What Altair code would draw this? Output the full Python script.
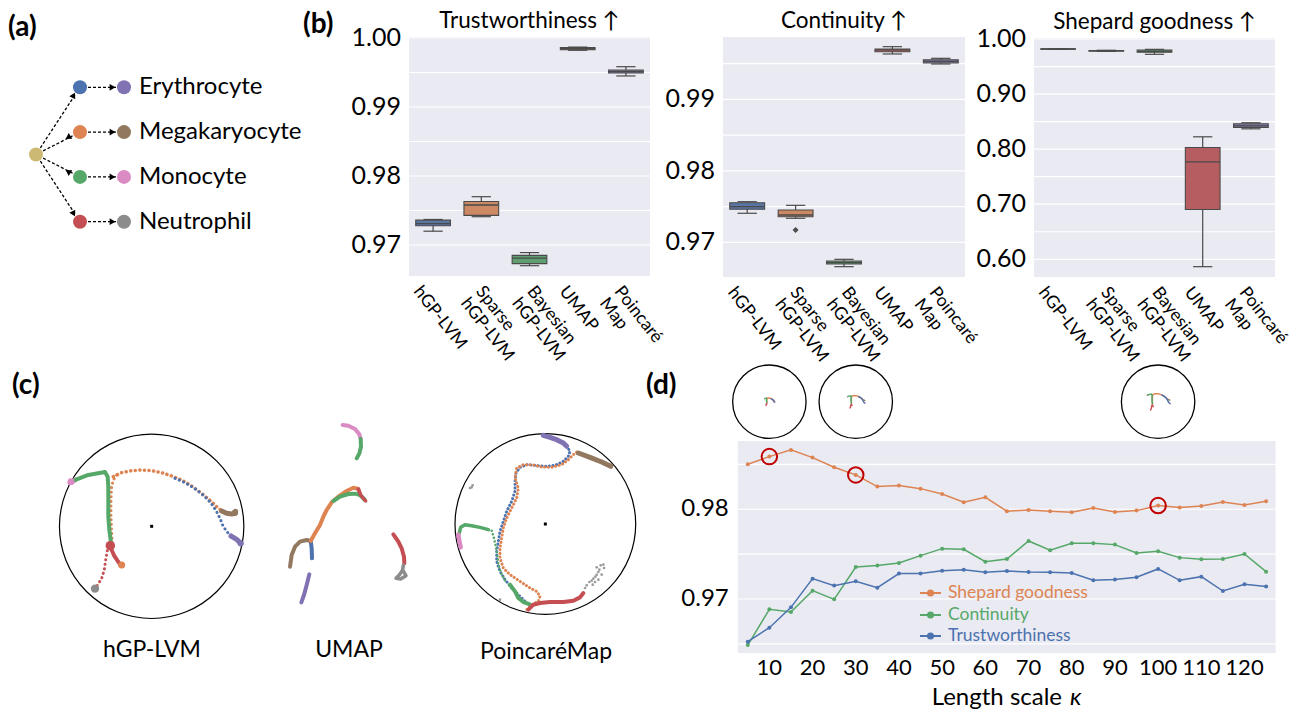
import math
import altair as alt
import pandas as pd

FONT = "Lato"
BG = "#EAEAF2"
EDGE = "#4a4a4a"

# ------------------------------------------------------------------ data
# (a) lineage tree
cell_types = ["Erythrocyte", "Megakaryocyte", "Monocyte", "Neutrophil"]
mid_colors = ["#4C72B0", "#DD8452", "#55A868", "#C44E52"]
leaf_colors = ["#8172B3", "#937860", "#DA8BC3", "#8C8C8C"]
root_color = "#CCB974"

# (b) box plot summaries
methods = ["hGP-LVM", "Sparse\nhGP-LVM", "Bayesian\nhGP-LVM", "UMAP", "Poincaré\nMap"]
box_fill = ["#5975a4", "#cc8963", "#5f9e6e", "#b55d60", "#857aab"]

trust_lo = [0.9720, 0.9741, 0.9670, 0.99822, 0.9945]
trust_q1 = [0.9728, 0.9743, 0.9673, 0.99830, 0.99493]
trust_med = [0.9731, 0.9758, 0.9681, 0.99848, 0.99512]
trust_q3 = [0.9736, 0.9763, 0.9685, 0.99862, 0.99536]
trust_hi = [0.9737, 0.9770, 0.9689, 0.99868, 0.99584]

cont_lo = [0.97406, 0.97336, 0.96659, 0.99634, 0.99494]
cont_q1 = [0.97462, 0.97358, 0.96697, 0.99666, 0.99508]
cont_med = [0.97498, 0.97382, 0.96715, 0.99690, 0.99531]
cont_q3 = [0.97554, 0.97452, 0.96738, 0.99703, 0.99554]
cont_hi = [0.97568, 0.97517, 0.96762, 0.99736, 0.99573]
cont_outlier_idx = [1]
cont_outlier_val = [0.97172]

shep_lo = [0.9812, 0.9776, 0.9722, 0.5866, 0.8369]
shep_q1 = [0.9815, 0.9780, 0.9758, 0.6903, 0.8394]
shep_med = [0.9818, 0.9787, 0.9776, 0.7770, 0.8424]
shep_q3 = [0.9820, 0.9792, 0.9800, 0.8030, 0.8461]
shep_hi = [0.9822, 0.9795, 0.9812, 0.8224, 0.8479]

# (c) embeddings (arbitrary latent units)
HGP_PINK = ([45, 52, 60], [158, 154, 150])
HGP_GREEN = ([55, 100, 150, 158, 160, 160, 160, 163, 167, 168],
             [152, 135, 126, 140, 170, 220, 260, 300, 330, 345])
HGP_ORANGE_TRUNK = ([185, 175, 170, 168, 168, 170, 172], [135, 150, 170, 210, 260, 310, 340])
HGP_ORANGE_ARC = ([175, 200, 230, 260, 290, 320, 350, 380, 410, 440, 470, 490, 505],
                  [140, 128, 122, 120, 122, 128, 138, 150, 168, 190, 215, 235, 245])
HGP_BLUE = ([360, 390, 420, 450, 470, 485, 495, 505, 520, 535],
            [145, 158, 176, 200, 222, 245, 265, 290, 310, 320])
HGP_BROWN = ([500, 515, 530, 540, 542], [243, 250, 252, 250, 244])
HGP_PURPLE = ([528, 545, 558], [318, 328, 340])
HGP_RED = ([165, 170, 178, 188, 196], [345, 360, 378, 393, 404])
HGP_RED_DOTTED = ([157, 152, 148, 140, 128, 121], [362, 390, 420, 445, 465, 474])
HGP_ENDS_X = [200, 166, 120, 48, 540, 557]
HGP_ENDS_Y = [405, 347, 476, 155, 248, 340]
HGP_ENDS_C = ["#DD8452", "#C44E52", "#8C8C8C", "#DA8BC3", "#937860", "#8172B3"]

UMAP_PINK = ([188, 205, 225, 238, 242], [30, 32, 42, 58, 72])
UMAP_GREEN_TOP = ([242, 243, 238, 230], [72, 95, 115, 130])
UMAP_BROWN = ([30, 35, 45, 60, 80, 92], [455, 420, 395, 380, 375, 378])
UMAP_BLUE = ([92, 95, 96], [378, 400, 430])
UMAP_PURPLE = ([88, 80, 72, 64], [478, 510, 540, 562])
UMAP_ORANGE = ([92, 105, 120, 130, 140, 155, 175, 200, 220, 235, 240],
               [378, 355, 330, 305, 285, 262, 245, 228, 218, 222, 238])
UMAP_GREEN_MID = ([160, 180, 205, 225, 240, 255], [258, 245, 237, 236, 240, 255])
UMAP_RED_MID = ([235, 242, 257], [222, 240, 258])
UMAP_RED = ([340, 355, 365, 372, 373], [358, 380, 400, 425, 445])
UMAP_GREY = ([370, 368, 358, 348, 362, 378, 370], [450, 465, 480, 490, 492, 482, 468])

PM_PURPLE = ([280, 300, 320, 340, 350], [22, 28, 35, 45, 55])
PM_BLUE = ([350, 360, 355, 340, 315, 285, 255, 230, 210, 198, 195, 195, 185, 170, 160, 150, 145, 140,
            140, 150, 165, 185, 205, 225, 235],
           [55, 70, 85, 100, 112, 115, 112, 110, 118, 135, 160, 190, 220, 250, 280, 310, 340, 370,
            400, 430, 455, 480, 500, 520, 530])
PM_ORANGE = ([380, 370, 355, 335, 305, 275, 245, 220, 200, 195, 205, 200, 185, 170, 160, 155, 150, 150,
              160, 180, 210, 240, 260, 270, 265, 245, 230],
             [72, 80, 95, 110, 118, 117, 110, 110, 120, 150, 180, 210, 240, 270, 300, 330, 360, 390,
              420, 440, 460, 480, 490, 505, 520, 530, 545])
PM_BROWN = ([385, 420, 455, 482], [75, 88, 102, 115])
PM_GREEN = ([115, 90, 65, 45, 32, 27], [305, 298, 293, 290, 298, 318])
PM_GREEN_DOTTED = ([125, 132, 136, 142, 145, 155, 170], [308, 330, 350, 380, 410, 440, 465])
PM_GREEN_LOW = ([180, 195, 205, 220, 238], [470, 490, 510, 522, 528])
PM_PINK = ([25, 28, 32], [320, 340, 358])
PM_RED = ([235, 250, 270, 300, 340, 370, 390, 400], [545, 530, 525, 522, 522, 518, 508, 495])
PM_GREY_X = [60, 65, 68, 405, 410, 418, 425, 430, 436, 440, 445, 448, 440, 452, 460, 462, 455, 445, 435, 428, 150]
PM_GREY_Y = [180, 178, 172, 480, 472, 462, 458, 452, 446, 440, 432, 425, 418, 412, 410, 420, 440, 455, 462, 470, 515]

# (d) length-scale sweep
kappa = [5, 10, 15, 20, 25, 30, 35, 40, 45, 50, 55, 60, 65, 70, 75, 80, 85, 90, 95, 100, 105, 110, 115, 120, 125]
shepard = [0.98502, 0.98587, 0.98662, 0.98576, 0.98468, 0.98383, 0.98253, 0.98264, 0.98230, 0.98171,
           0.98078, 0.98134, 0.97978, 0.97993, 0.97978, 0.97967, 0.98015, 0.97970, 0.97985, 0.98041,
           0.98019, 0.98037, 0.98082, 0.98048, 0.98089]
continuity = [0.96487, 0.96885, 0.96855, 0.97093, 0.96996, 0.97357, 0.97372, 0.97401, 0.97483, 0.97561,
              0.97554, 0.97416, 0.97446, 0.97647, 0.97543, 0.97621, 0.97621, 0.97606, 0.97513, 0.97532,
              0.97461, 0.97442, 0.97446, 0.97502, 0.97305]
trustworthiness = [0.96524, 0.96680, 0.96907, 0.97227, 0.97149, 0.97197, 0.97126, 0.97283, 0.97283, 0.97316,
                   0.97327, 0.97297, 0.97312, 0.97301, 0.97297, 0.97290, 0.97208, 0.97216, 0.97242, 0.97335,
                   0.97208, 0.97249, 0.97089, 0.97164, 0.97138]
series_names = ["Shepard goodness", "Continuity", "Trustworthiness"]
series_colors = ["#DD8452", "#55A868", "#4C72B0"]
highlight_kappa = [10, 30, 100]
inset_scale_px = [6.0, 10.0, 13.0]


# ------------------------------------------------------------------ helpers
def qs(dom, rng):
    return alt.Scale(domain=list(dom), range=list(rng), nice=False, zero=False)


class Panel:
    def __init__(self, xd, xr, yd, yr):
        self.xd, self.xr, self.yd, self.yr = xd, xr, yd, yr

    def X(self, f):
        return alt.X(f, type="quantitative", scale=qs(self.xd, self.xr), axis=None)

    def Y(self, f):
        return alt.Y(f, type="quantitative", scale=qs(self.yd, self.yr), axis=None)

    def px_x(self):
        return (self.xr[1] - self.xr[0]) / (self.xd[1] - self.xd[0])

    def px_y(self):
        return (self.yr[0] - self.yr[1]) / (self.yd[1] - self.yd[0])


def note(text, x, y, size, weight="normal", align="center", style="normal"):
    return alt.Chart(pd.DataFrame({"t": [text]})).mark_text(
        font=FONT, fontSize=size, fontWeight=weight, fontStyle=style, align=align, baseline="middle",
        color="black"
    ).encode(x=alt.value(x), y=alt.value(y), text="t:N")


# ------------------------------------------------------------------ (a) tree
TP = Panel([0, 2], [36, 124], [0, 3], [87.3, 221.7])
PXX, PXY = TP.px_x(), TP.px_y()
seg_rows, head_rows = [], []


def add_arrow(sid, a, b, pad0=8.0, pad1=8.0):
    dxp = (b[0] - a[0]) * PXX
    dyp = (b[1] - a[1]) * PXY
    L = math.hypot(dxp, dyp)
    ux, uy = dxp / L, dyp / L
    s = (a[0] + ux * pad0 / PXX, a[1] + uy * pad0 / PXY)
    t = (b[0] - ux * pad1 / PXX, b[1] - uy * pad1 / PXY)
    h = (t[0] - ux * 3.5 / PXX, t[1] - uy * 3.5 / PXY)
    seg_rows.append(dict(s=sid, i=0, x=s[0], y=s[1]))
    seg_rows.append(dict(s=sid, i=1, x=t[0], y=t[1]))
    head_rows.append(dict(x=h[0], y=h[1], ang=math.degrees(math.atan2(dyp, dxp))))


for k in range(4):
    add_arrow(f"r{k}", (0, 1.5), (1, k))
    add_arrow(f"m{k}", (1, k), (2, k))

node_df = pd.DataFrame(
    dict(x=[0] + [1] * 4 + [2] * 4, y=[1.5] + list(range(4)) + list(range(4)),
         c=[root_color] + mid_colors + leaf_colors))
lab_df = pd.DataFrame(dict(x=[2] * 4, y=list(range(4)), t=cell_types))

tree = alt.layer(
    alt.Chart(pd.DataFrame(seg_rows)).mark_line(color="black", strokeWidth=1.3, strokeDash=[3, 2]).encode(
        x=TP.X("x"), y=TP.Y("y"), detail="s:N", order="i:Q"),
    alt.Chart(pd.DataFrame(head_rows)).mark_point(shape="triangle-right", size=45, filled=True, color="black",
                                                  opacity=1).encode(
        x=TP.X("x"), y=TP.Y("y"), angle=alt.Angle("ang:Q", scale=None)),
    alt.Chart(node_df).mark_circle(size=196, opacity=1).encode(
        x=TP.X("x"), y=TP.Y("y"), color=alt.Color("c:N", scale=None)),
    alt.Chart(lab_df).mark_text(font=FONT, fontSize=24, align="left", baseline="middle", dx=15,
                                color="black").encode(x=TP.X("x"), y=TP.Y("y"), text="t:N"),
)


# ------------------------------------------------------------------ (b) box plots
def box_panel(title, lo, q1, med, q3, hi, P, grid, ticks, offs, out_idx=None, out_val=None):
    n = len(methods)
    c = [i + 0.5 for i in range(n)]
    df = pd.DataFrame(dict(c=c, bl=[v - 0.36 for v in c], br=[v + 0.36 for v in c],
                           cl=[v - 0.2 for v in c], cr=[v + 0.2 for v in c],
                           lo=lo, q1=q1, med=med, q3=q3, hi=hi, fill=box_fill))
    frame = pd.DataFrame(dict(x0=[P.xd[0]], x1=[P.xd[1]], y0=[P.yd[0]], y1=[P.yd[1]]))
    gdf = pd.DataFrame(dict(g=grid, x0=P.xd[0], x1=P.xd[1]))
    tdf = pd.DataFrame(dict(v=ticks, lab=[f"{t:.2f}" for t in ticks], x0=P.xd[0]))
    ldf = pd.DataFrame(dict(lx=[ci + o / P.px_x() for ci, o in zip(c, offs)],
                            ly=P.yd[0] - 7 / P.px_y(), lab=methods))
    ttl = pd.DataFrame(dict(x=[(P.xd[0] + P.xd[1]) / 2], y=[P.yd[1]], t=[title]))
    base = alt.Chart(df)
    layers = [
        alt.Chart(frame).mark_rect(color=BG).encode(x=P.X("x0"), x2="x1", y=P.Y("y0"), y2="y1"),
        alt.Chart(gdf).mark_rule(color="white", strokeWidth=1.2).encode(x=P.X("x0"), x2="x1", y=P.Y("g")),
        base.mark_rule(color=EDGE, strokeWidth=1.2).encode(x=P.X("c"), y=P.Y("lo"), y2="hi"),
        base.mark_rule(color=EDGE, strokeWidth=1.2).encode(x=P.X("cl"), x2="cr", y=P.Y("lo")),
        base.mark_rule(color=EDGE, strokeWidth=1.2).encode(x=P.X("cl"), x2="cr", y=P.Y("hi")),
        base.mark_rect(stroke=EDGE, strokeWidth=1.1).encode(
            x=P.X("bl"), x2="br", y=P.Y("q1"), y2="q3", fill=alt.Fill("fill:N", scale=None)),
        base.mark_rule(color=EDGE, strokeWidth=1.3).encode(x=P.X("bl"), x2="br", y=P.Y("med")),
        alt.Chart(tdf).mark_text(font=FONT, fontSize=25, align="right", baseline="middle", dx=-8,
                                 color="black").encode(x=P.X("x0"), y=P.Y("v"), text="lab:N"),
        alt.Chart(ldf).mark_text(font=FONT, fontSize=17.5, angle=52, align="left", baseline="top",
                                 lineBreak="\n", lineHeight=19, color="black").encode(
            x=P.X("lx"), y=P.Y("ly"), text="lab:N"),
        alt.Chart(ttl).mark_text(font=FONT, fontSize=22.5, baseline="middle", dy=-16, color="black").encode(
            x=P.X("x"), y=P.Y("y"), text="t:N"),
    ]
    if out_idx:
        odf = pd.DataFrame(dict(x=[i + 0.5 for i in out_idx], y=out_val))
        layers.append(alt.Chart(odf).mark_point(shape="diamond", size=10, color=EDGE, opacity=1).encode(
            x=P.X("x"), y=P.Y("y")))
    return alt.layer(*layers)


label_offs = [-9, 5, 8, -8, -1]
trust_panel = box_panel(
    "Trustworthiness ↑", trust_lo, trust_q1, trust_med, trust_q3, trust_hi,
    Panel([0, 5], [409, 650], [0.965507, 1.000145], [276, 37]),
    [0.97, 0.975, 0.98, 0.985, 0.99, 0.995, 1.0], [0.97, 0.98, 0.99, 1.00], label_offs)
cont_panel = box_panel(
    "Continuity ↑", cont_lo, cont_q1, cont_med, cont_q3, cont_hi,
    Panel([0, 5], [723, 965], [0.965147, 0.998713], [277, 37]),
    [0.97, 0.975, 0.98, 0.985, 0.99, 0.995], [0.97, 0.98, 0.99], label_offs,
    cont_outlier_idx, cont_outlier_val)
shep_panel = box_panel(
    "Shepard goodness ↑", shep_lo, shep_q1, shep_med, shep_q3, shep_hi,
    Panel([0, 5], [1034, 1275], [0.56786, 1.0018], [277, 38]),
    [0.6, 0.65, 0.7, 0.75, 0.8, 0.85, 0.9, 0.95, 1.0], [0.6, 0.7, 0.8, 0.9, 1.0], label_offs)


# ------------------------------------------------------------------ (c) embeddings
def branches_df(branches):
    rows = []
    for name, col, style, w, (xs, ys) in branches:
        for i, (x, y) in enumerate(zip(xs, ys)):
            rows.append(dict(b=name, i=i, x=x, y=y, col=col, w=w, style=style))
    return pd.DataFrame(rows)


def emb_panel(branches, P, dash, circle=None, dots=None):
    df = branches_df(branches)
    layers = []
    if circle is not None:
        cx, cy, size = circle
        cdf = pd.DataFrame(dict(x=[cx], y=[cy]))
        layers.append(alt.Chart(cdf).mark_point(shape="circle", size=size, color="black", strokeWidth=1.2,
                                                filled=False, opacity=1).encode(x=P.X("x"), y=P.Y("y")))
        layers.append(alt.Chart(cdf).mark_square(size=9, color="black", opacity=1).encode(
            x=P.X("x"), y=P.Y("y")))
    dot = df[df["style"] == "dotted"]
    sol = df[df["style"] == "solid"]
    if len(dot):
        layers.append(alt.Chart(dot).mark_line(strokeDash=[0.1, dash], strokeCap="round").encode(
            x=P.X("x"), y=P.Y("y"), detail="b:N", order="i:Q", color=alt.Color("col:N", scale=None),
            strokeWidth=alt.StrokeWidth("w:Q", scale=None)))
    layers.append(alt.Chart(sol).mark_line(strokeCap="round", strokeJoin="round").encode(
        x=P.X("x"), y=P.Y("y"), detail="b:N", order="i:Q", color=alt.Color("col:N", scale=None),
        strokeWidth=alt.StrokeWidth("w:Q", scale=None)))
    if dots is not None:
        layers.append(alt.Chart(dots).mark_circle(opacity=1).encode(
            x=P.X("x"), y=P.Y("y"), color=alt.Color("c:N", scale=None), size=alt.Size("s:Q", scale=None)))
    return alt.layer(*layers)


hgp_branches = [
    ("o_trunk", "#DD8452", "dotted", 3, HGP_ORANGE_TRUNK),
    ("o_arc", "#DD8452", "dotted", 3.5, HGP_ORANGE_ARC),
    ("blue", "#4C72B0", "dotted", 3, HGP_BLUE),
    ("r_dot", "#C44E52", "dotted", 3, HGP_RED_DOTTED),
    ("pink", "#DA8BC3", "solid", 5, HGP_PINK),
    ("green", "#55A868", "solid", 4, HGP_GREEN),
    ("brown", "#937860", "solid", 5, HGP_BROWN),
    ("purple", "#8172B3", "solid", 5, HGP_PURPLE),
    ("red", "#C44E52", "solid", 4, HGP_RED),
]
HP = Panel([12, 568], [59, 244.3], [12, 565], [434, 618.3])
hgp_dots = pd.DataFrame(dict(x=HGP_ENDS_X, y=HGP_ENDS_Y, c=HGP_ENDS_C, s=[50, 90, 70, 45, 40, 40]))
hgp_panel = emb_panel(hgp_branches, HP, 4.5, circle=(290, 289, 34003), dots=hgp_dots)

umap_branches = [
    ("pink", "#DA8BC3", "solid", 4, UMAP_PINK),
    ("g_top", "#55A868", "solid", 4, UMAP_GREEN_TOP),
    ("brown", "#937860", "solid", 4, UMAP_BROWN),
    ("blue", "#4C72B0", "solid", 4, UMAP_BLUE),
    ("purple", "#8172B3", "solid", 4, UMAP_PURPLE),
    ("orange", "#DD8452", "solid", 4, UMAP_ORANGE),
    ("g_mid", "#55A868", "solid", 4, UMAP_GREEN_MID),
    ("r_mid", "#C44E52", "solid", 3.5, UMAP_RED_MID),
    ("red", "#C44E52", "solid", 4, UMAP_RED),
    ("grey", "#8C8C8C", "solid", 3.5, UMAP_GREY),
]
UP = Panel([0, 405], [280, 415], [0, 600], [415, 615])
umap_panel = emb_panel(umap_branches, UP, 4)

pm_branches = [
    ("blue", "#4C72B0", "dotted", 3, PM_BLUE),
    ("orange", "#DD8452", "dotted", 3, PM_ORANGE),
    ("g_dot", "#55A868", "dotted", 2.5, PM_GREEN_DOTTED),
    ("purple", "#8172B3", "solid", 5, PM_PURPLE),
    ("brown", "#937860", "solid", 5, PM_BROWN),
    ("green", "#55A868", "solid", 3.5, PM_GREEN),
    ("g_low", "#55A868", "solid", 4, PM_GREEN_LOW),
    ("pink", "#DA8BC3", "solid", 4.5, PM_PINK),
    ("red", "#C44E52", "solid", 4, PM_RED),
]
PP = Panel([15, 557], [455, 635.7], [15, 557], [433, 613.7])
pm_dots = pd.DataFrame(dict(x=PM_GREY_X, y=PM_GREY_Y, c="#9a9a9a", s=7))
pm_panel = emb_panel(pm_branches, PP, 3.6, circle=(286, 288, 32652), dots=pm_dots)

# ------------------------------------------------------------------ (d) sweep
DP = Panel([2.69, 127.2], [737.8, 1275.6], [0.96398, 0.98761], [653, 441])
long_rows = []
for name, col, vals in zip(series_names, series_colors, [shepard, continuity, trustworthiness]):
    for k, v in zip(kappa, vals):
        long_rows.append(dict(k=k, v=v, s=name, c=col))
ddf = pd.DataFrame(long_rows)
frame_d = pd.DataFrame(dict(x0=[DP.xd[0]], x1=[DP.xd[1]], y0=[DP.yd[0]], y1=[DP.yd[1]]))
grid_d = pd.DataFrame(dict(g=[0.965, 0.97, 0.975, 0.98, 0.985], x0=DP.xd[0], x1=DP.xd[1]))
yt_d = pd.DataFrame(dict(v=[0.97, 0.98], lab=["0.97", "0.98"], x0=DP.xd[0]))
xt_d = pd.DataFrame(dict(k=list(range(10, 121, 10)), lab=[str(v) for v in range(10, 121, 10)], y0=DP.yd[0]))
hl = ddf[(ddf["s"] == "Shepard goodness") & (ddf["k"].isin(highlight_kappa))]

# legend (layout in panel units)
leg_y = [DP.yd[1] - (593 - 441) / DP.px_y(), DP.yd[1] - (615 - 441) / DP.px_y(),
         DP.yd[1] - (636 - 441) / DP.px_y()]
kx = lambda px: DP.xd[0] + (px - DP.xr[0]) / DP.px_x()
leg = pd.DataFrame(dict(s=series_names, c=series_colors, y=leg_y, x0=kx(920), x1=kx(941), xm=kx(930.5),
                        xt=kx(948)))

sweep = alt.layer(
    alt.Chart(frame_d).mark_rect(color=BG).encode(x=DP.X("x0"), x2="x1", y=DP.Y("y0"), y2="y1"),
    alt.Chart(grid_d).mark_rule(color="white", strokeWidth=1.2).encode(x=DP.X("x0"), x2="x1", y=DP.Y("g")),
    alt.Chart(ddf).mark_line(strokeWidth=1.5).encode(
        x=DP.X("k"), y=DP.Y("v"), detail="s:N", color=alt.Color("c:N", scale=None)),
    alt.Chart(ddf).mark_circle(size=16, opacity=1).encode(
        x=DP.X("k"), y=DP.Y("v"), color=alt.Color("c:N", scale=None)),
    alt.Chart(hl).mark_point(shape="circle", size=240, color="#C00000", strokeWidth=2, opacity=1).encode(
        x=DP.X("k"), y=DP.Y("v")),
    alt.Chart(yt_d).mark_text(font=FONT, fontSize=24, align="right", baseline="middle", dx=-9,
                              color="black").encode(x=DP.X("x0"), y=DP.Y("v"), text="lab:N"),
    alt.Chart(xt_d).mark_text(font=FONT, fontSize=22, baseline="middle", dy=15, color="black").encode(
        x=DP.X("k"), y=DP.Y("y0"), text="lab:N"),
    alt.Chart(leg).mark_rule(strokeWidth=2).encode(
        x=DP.X("x0"), x2="x1", y=DP.Y("y"), color=alt.Color("c:N", scale=None)),
    alt.Chart(leg).mark_circle(size=50, opacity=1).encode(
        x=DP.X("xm"), y=DP.Y("y"), color=alt.Color("c:N", scale=None)),
    alt.Chart(leg).mark_text(font=FONT, fontSize=17.5, align="left", baseline="middle").encode(
        x=DP.X("xt"), y=DP.Y("y"), text="s:N", color=alt.Color("c:N", scale=None)),
)

# insets: miniature hGP-LVM layouts above kappa = 10, 30, 100
IP = Panel(DP.xd, DP.xr, [-1, 1], [438.4, 365])
ins_rows = []
for kk, spx in zip(highlight_kappa, inset_scale_px):
    for name, col, style, w, (xs, ys) in hgp_branches:
        for i, (x, y) in enumerate(zip(xs, ys)):
            u = (x - 290) / 276.6
            v = (289 - y) / 276.6
            ins_rows.append(dict(b=f"{kk}_{name}", i=i, x=kk + u * spx / DP.px_x(),
                                 y=v * spx / IP.px_y(), col=col))
ins_df = pd.DataFrame(ins_rows)
insets = alt.layer(
    alt.Chart(pd.DataFrame(dict(k=highlight_kappa, y=0))).mark_point(
        shape="circle", size=5390, color="black", strokeWidth=1.3, filled=False, opacity=1).encode(
        x=IP.X("k"), y=IP.Y("y")),
    alt.Chart(ins_df).mark_line(strokeWidth=1.5).encode(
        x=IP.X("x"), y=IP.Y("y"), detail="b:N", order="i:Q", color=alt.Color("col:N", scale=None)),
)

# ------------------------------------------------------------------ assemble
chart = alt.layer(
    tree, trust_panel, cont_panel, shep_panel, hgp_panel, umap_panel, pm_panel, sweep, insets,
    note("(a)", 8, 28, 28, "bold", "left"),
    note("(b)", 303, 25, 28, "bold", "left"),
    note("(c)", 12, 386, 28, "bold", "left"),
    note("(d)", 646, 386, 28, "bold", "left"),
    note("hGP-LVM", 152, 650, 23),
    note("UMAP", 349, 650, 23),
    note("PoincaréMap", 546, 652, 23),
    note("Length scale", 1062, 698, 24, align="right"),
    note("κ", 1070, 698, 24, align="left", style="italic"),
).resolve_scale(x="independent", y="independent").properties(
    width=1305, height=715, autosize=alt.AutoSizeParams(type="none"), padding=0
).configure_view(stroke=None)

chart.save("out.html", embed_options={"renderer": "svg", "actions": False})
